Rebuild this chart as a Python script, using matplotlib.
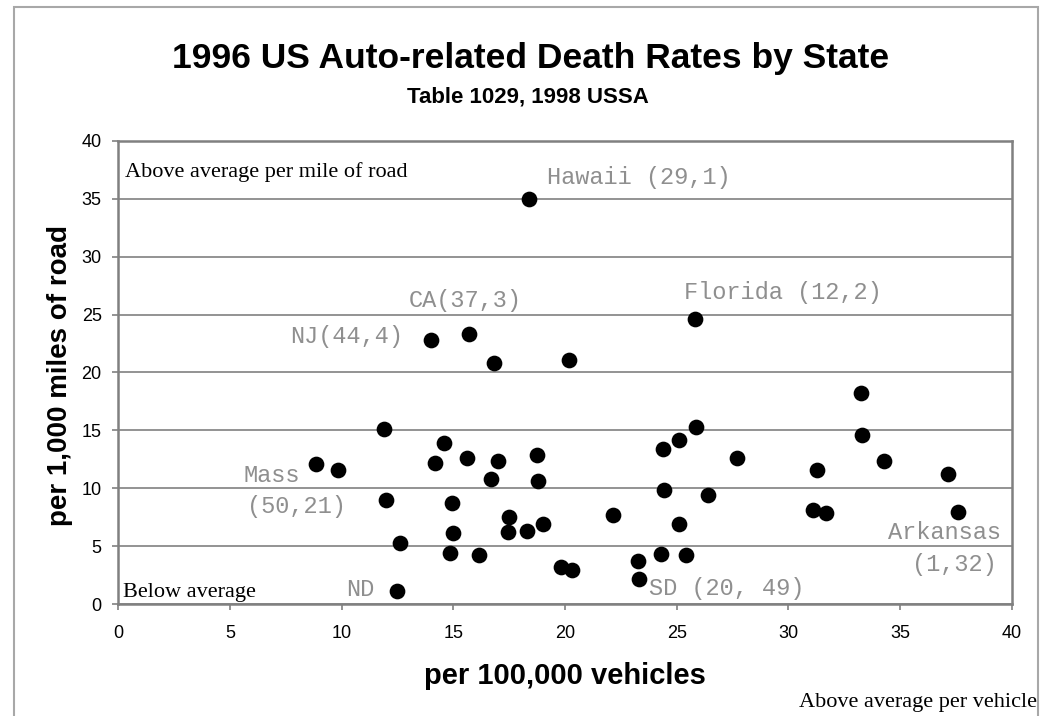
import numpy as np
import matplotlib
matplotlib.use('Agg')
import matplotlib.pyplot as plt
from matplotlib.patches import Rectangle

# deaths per 100,000 vehicles (x) and per 1,000 miles of road (y), one point per state
perVehicle = [18.4, 14.0, 15.7, 16.8, 20.2, 25.8,
              11.9, 14.6, 8.85, 9.85, 14.2, 15.6, 17.0, 18.75, 16.7, 18.8, 12.0, 14.95,
              17.5, 17.45, 18.3, 19.0, 15.0, 12.6, 14.85, 16.15, 19.8, 20.3, 12.5,
              33.25, 25.85, 25.1, 24.4, 33.3, 27.7, 34.3, 31.3, 37.15, 24.45, 26.4,
              31.1, 31.7, 37.6, 22.15, 25.1, 24.3, 25.4, 23.25, 23.3]
perRoad = [35.0, 22.8, 23.3, 20.8, 21.05, 24.6,
           15.1, 13.95, 12.1, 11.6, 12.2, 12.6, 12.4, 12.9, 10.8, 10.65, 9.0, 8.75,
           7.5, 6.25, 6.35, 6.9, 6.15, 5.25, 4.45, 4.25, 3.2, 2.95, 1.15,
           18.25, 15.3, 14.15, 13.4, 14.6, 12.6, 12.4, 11.55, 11.2, 9.9, 9.4,
           8.1, 7.85, 7.95, 7.7, 6.9, 4.35, 4.25, 3.7, 2.15]

# state labels: text, x, y, alignment
labelText = ['Hawaii (29,1)', 'CA(37,3)', 'NJ(44,4)', 'Florida (12,2)', 'Mass', '(50,21)',
             'ND', 'SD (20, 49)', 'Arkansas', '(1,32)']
labelX = [19.2, 13.0, 7.69, 25.33, 5.6, 5.78, 10.2, 23.78, 39.51, 39.33]
labelY = [36.8, 26.2, 23.1, 26.9, 11.1, 8.4, 1.3, 1.35, 6.16, 3.45]
labelHa = ['left', 'left', 'left', 'left', 'left', 'left', 'left', 'left', 'right', 'right']

xTicks = [0, 5, 10, 15, 20, 25, 30, 35, 40]
yTicks = [0, 5, 10, 15, 20, 25, 30, 35, 40]

W, H = 1040, 716
fig = plt.figure(figsize=(W / 100, H / 100), dpi=100)
ax = fig.add_axes([118.3 / W, 1 - 604.3 / H, (1011.7 - 118.3) / W, (604.3 - 140.7) / H])

ax.scatter(perVehicle, perRoad, s=128, c='black', zorder=5, linewidths=0)

ax.set_xlim(0, 40)
ax.set_ylim(0, 40)
ax.set_xticks(xTicks)
ax.set_yticks(yTicks)
ax.yaxis.grid(True, color='#808080', linewidth=1.2)
ax.set_axisbelow(True)
for s in ax.spines.values():
    s.set_color('#808080')
    s.set_linewidth(1.8)
ax.tick_params(axis='both', direction='out', length=4, width=1.2, color='#808080',
               labelsize=13, labelcolor='black')
ax.tick_params(axis='x', pad=11)
ax.tick_params(axis='y', pad=8)
for t in ax.get_xticklabels() + ax.get_yticklabels():
    t.set_fontfamily('Liberation Sans')

for txt, lx, ly, ha in zip(labelText, labelX, labelY, labelHa):
    ax.text(lx, ly, txt, ha=ha, va='center', fontsize=17, color='#8f8f8f',
            family='Liberation Mono')

ax.text(0.3, 36.9, 'Above average per mile of road', ha='left', va='baseline',
        fontsize=16, family='Liberation Serif')
ax.text(0.22, 0.66, 'Below average', ha='left', va='baseline',
        fontsize=16, family='Liberation Serif')

fig.text(530.5 / W, 1 - 68.3 / H, '1996 US Auto-related Death Rates by State',
         ha='center', va='baseline', fontsize=25.5, fontweight='bold', family='Liberation Sans')
fig.text(528 / W, 1 - 102 / H, 'Table 1029, 1998 USSA',
         ha='center', va='baseline', fontsize=16, fontweight='bold', family='Liberation Sans')
fig.text(60 / W, 1 - 375 / H, 'per 1,000 miles of road', rotation=90,
         ha='center', va='center', fontsize=20, fontweight='bold', family='Liberation Sans')
fig.text(565 / W, 1 - 676 / H, 'per 100,000 vehicles',
         ha='center', va='center', fontsize=21, fontweight='bold', family='Liberation Sans')
fig.text(1037 / W, 1 - 706.7 / H, 'Above average per vehicle',
         ha='right', va='baseline', fontsize=16, family='Liberation Serif')

# grey frame round the whole chart
fig.patches.append(Rectangle((13.5 / W, -0.05), (1038 - 13.5) / W, (H - 6.5) / H + 0.05,
                             transform=fig.transFigure, fill=False, edgecolor='#a8a8a8',
                             linewidth=1.5, clip_on=False))

plt.savefig('out.png', dpi=100)
